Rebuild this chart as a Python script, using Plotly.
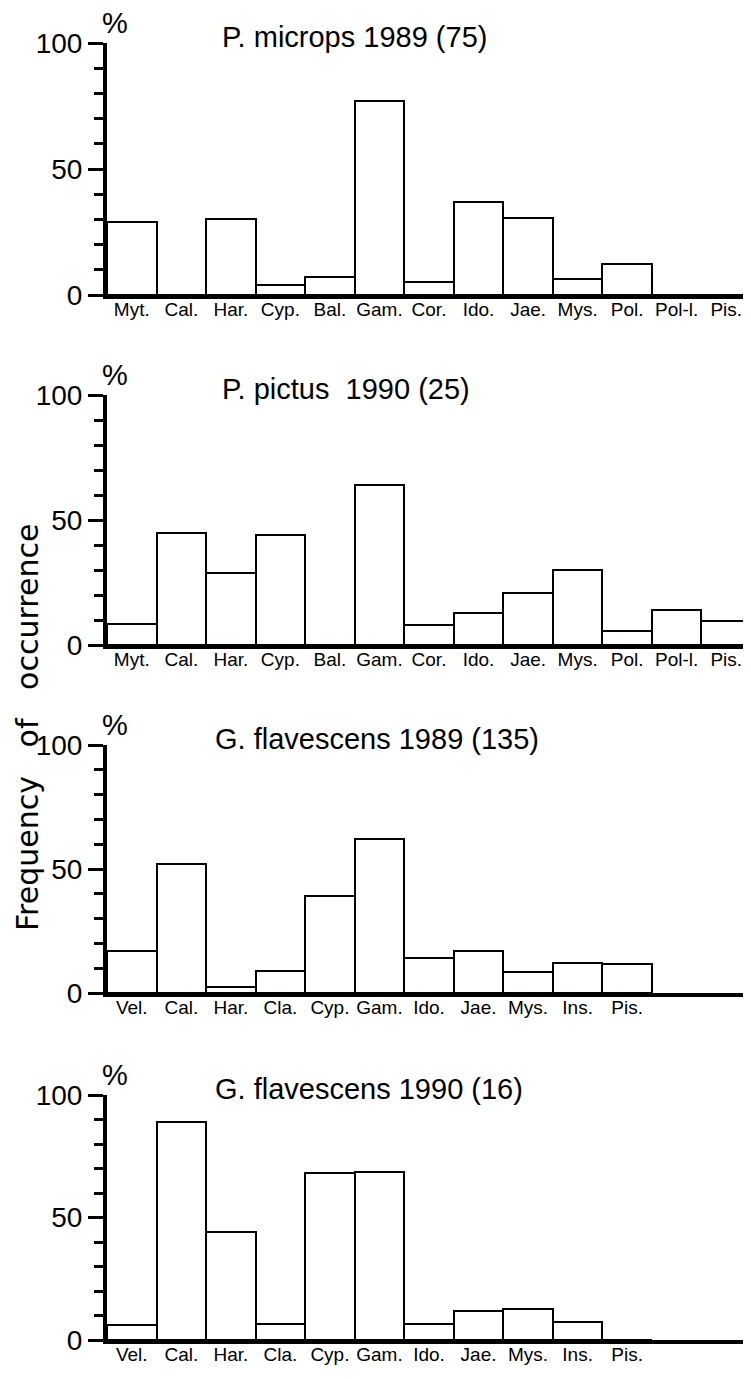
import plotly.graph_objects as go

# ---- data ----
cats_pm_1989 = ["Myt.", "Cal.", "Har.", "Cyp.", "Bal.", "Gam.", "Cor.", "Ido.", "Jae.", "Mys.", "Pol.", "Pol-l.", "Pis."]
vals_pm_1989 = [29, 0, 30, 4, 7, 77, 5, 37, 30.5, 6.5, 12.5, 0, 0]

cats_pp_1990 = ["Myt.", "Cal.", "Har.", "Cyp.", "Bal.", "Gam.", "Cor.", "Ido.", "Jae.", "Mys.", "Pol.", "Pol-l.", "Pis."]
vals_pp_1990 = [8.5, 45, 29, 44, 0, 64, 8, 13, 21, 30, 5.5, 14, 9.5]

cats_gf_1989 = ["Vel.", "Cal.", "Har.", "Cla.", "Cyp.", "Gam.", "Ido.", "Jae.", "Mys.", "Ins.", "Pis."]
vals_gf_1989 = [17, 52, 2.5, 9, 39, 62, 14, 17, 8.5, 12, 11.5]

cats_gf_1990 = ["Vel.", "Cal.", "Har.", "Cla.", "Cyp.", "Gam.", "Ido.", "Jae.", "Mys.", "Ins.", "Pis."]
vals_gf_1990 = [6, 89, 44, 6.5, 68, 68.5, 6.5, 12, 12.5, 7.5, 0]

titles = ["P. microps 1989 (75)", "P. pictus  1990 (25)",
          "G. flavescens 1989 (135)", "G. flavescens 1990 (16)"]
y_ticks = [0, 50, 100]
y_tick_labels = ["0", "50", "100"]

panels = [(cats_pm_1989, vals_pm_1989), (cats_pp_1990, vals_pp_1990),
          (cats_gf_1989, vals_gf_1989), (cats_gf_1990, vals_gf_1990)]

# ---- layout geometry (page pixels; the page body adds an 8 px offset) ----
OFF = 8
W, H = 751 - OFF, 1379 - OFF
L = 107 - OFF
PW = W - L
zero_px = [295 - OFF, 645 - OFF, 993 - OFF, 1340 - OFF]
top_px = [43 - OFF, 395 - OFF, 745 - OFF, 1095 - OFF]
title_x_px = [220 - OFF, 220 - OFF, 213 - OFF, 213 - OFF]

FONT = "Liberation Sans, Arial, sans-serif"

fig = go.Figure()
layout = dict(
    width=W, height=H,
    margin=dict(l=L, r=0, t=0, b=0, autoexpand=False),
    plot_bgcolor="white", paper_bgcolor="white",
    showlegend=False, bargap=0,
    font=dict(family=FONT, color="black"),
)
annotations = []
for i, (cats, vals) in enumerate(panels):
    k = "" if i == 0 else str(i + 1)
    fig.add_trace(go.Bar(
        x=list(range(len(cats))), y=vals, width=1,
        marker=dict(color="white", line=dict(color="black", width=2)),
        xaxis="x" + k, yaxis="y" + k, hoverinfo="skip",
    ))
    d0 = 1 - zero_px[i] / H
    d1 = 1 - top_px[i] / H
    layout["xaxis" + k] = dict(
        domain=[0, 1], anchor="y" + k, range=[-0.5, 12.5],
        tickvals=list(range(len(cats))), ticktext=cats,
        showline=True, linecolor="black", linewidth=4,
        ticks="", showgrid=False, zeroline=False,
        ticklabelstandoff=-6,
        tickfont=dict(family=FONT, size=19, color="black"),
    )
    layout["yaxis" + k] = dict(
        domain=[d0, d1], anchor="x" + k, range=[0, 100],
        tickvals=y_ticks, ticktext=y_tick_labels,
        showline=True, linecolor="black", linewidth=4,
        ticks="outside", ticklen=15, tickwidth=3, tickcolor="black",
        minor=dict(ticks="outside", dtick=10, ticklen=9, tickwidth=3, tickcolor="black", showgrid=False),
        showgrid=False, zeroline=False,
        tickfont=dict(family=FONT, size=28, color="black"),
    )
    annotations.append(dict(
        text="%", xref="paper", yref="y" + k + " domain",
        x=(115 - 8 - L) / PW, y=1, yshift=20, showarrow=False,
        xanchor="center", yanchor="middle",
        font=dict(family=FONT, size=29, color="black"),
    ))
    annotations.append(dict(
        text=titles[i], xref="paper", yref="y" + k + " domain",
        x=(title_x_px[i] - L) / PW, y=1, yshift=6, showarrow=False,
        xanchor="left", yanchor="middle",
        font=dict(family=FONT, size=29, color="black"),
    ))

annotations.append(dict(
    text="Frequency\u00a0\u00a0 of\u00a0\u00a0 occurrence",
    xref="paper", yref="paper",
    x=(28 - 8 - L) / PW, y=1 - (728 - 8) / H, showarrow=False,
    textangle=-90, xanchor="center", yanchor="middle",
    font=dict(family="DejaVu Sans, sans-serif", size=30, color="black"),
))
layout["annotations"] = annotations
fig.update_layout(**layout)
fig.write_html("out.html")
